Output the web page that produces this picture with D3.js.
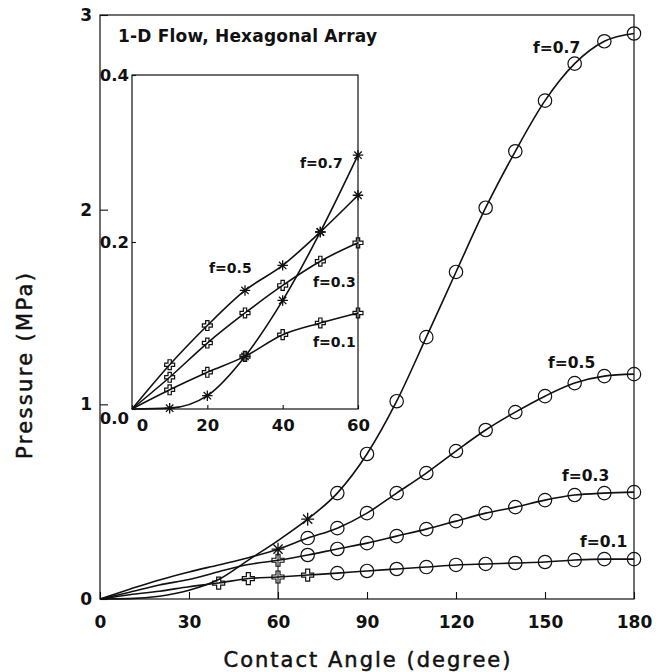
<!DOCTYPE html>
<html><head><meta charset="utf-8">
<script src="https://cdn.jsdelivr.net/npm/d3@7"></script>
<style>html,body{margin:0;padding:0;background:#fff}svg{display:block}</style>
</head><body><svg id="c" width="661" height="672"></svg>
<script>
// ---- data ----
const angles = [0,10,20,30,40,50,60,70,80,90,100,110,120,130,140,150,160,170,180];
const mainF01 = [0,0.022,0.040,0.063,0.082,0.105,0.113,0.123,0.133,0.144,0.154,0.164,0.175,0.180,0.185,0.190,0.200,0.205,0.205];
const mainF03 = [0,0.035,0.072,0.100,0.140,0.177,0.199,0.226,0.257,0.287,0.323,0.359,0.400,0.441,0.472,0.508,0.534,0.544,0.549];
const mainF05 = [0,0.050,0.098,0.139,0.175,0.212,0.256,0.313,0.364,0.441,0.544,0.647,0.760,0.868,0.960,1.042,1.109,1.145,1.155];
const mainF07 = [0,0.002,0.014,0.045,0.100,0.200,0.300,0.410,0.544,0.745,1.016,1.345,1.680,2.010,2.300,2.560,2.750,2.865,2.905];
// marker kind per point: . none, o circle, * star, + cross
const mainMarkF01 = "....++++ooooooooooo";
const mainMarkF03 = "......+oooooooooooo";
const mainMarkF05 = "......*oooooooooooo";
const mainMarkF07 = ".......*ooooooooooo";

const insetAngles = [0,10,20,30,40,50,60];
const insetF01 = [0,0.023,0.044,0.063,0.089,0.103,0.115];
const insetF03 = [0,0.038,0.079,0.115,0.148,0.177,0.199];
const insetF05 = [0,0.053,0.100,0.142,0.172,0.212,0.256];
const insetF07 = [0,0.001,0.016,0.063,0.130,0.212,0.304];
const insetMarkF01 = ".++++++";
const insetMarkF03 = ".++++++";
const insetMarkF05 = ".++****";
const insetMarkF07 = ".******";

const seriesNames = ["f=0.1","f=0.3","f=0.5","f=0.7"];
const mainTicksX = [0,30,60,90,120,150,180];
const mainTicksY = [0,1,2,3];
const insetTicksX = [0,20,40,60];
const insetTicksY = [0,0.2,0.4];
const titleText = "1-D Flow, Hexagonal Array";
const xTitle = "Contact Angle (degree)";
const yTitle = "Pressure (MPa)";

// ---- drawing ----
const ink = "#111";
const svg = d3.select("#c");
const x = d3.scaleLinear().domain([0,180]).range([100,634]);
const y = d3.scaleLinear().domain([0,3]).range([599,15]);
const xi = d3.scaleLinear().domain([0,60]).range([132,358]);
const yi = d3.scaleLinear().domain([0,0.4]).range([409,75]);

const starType = {draw(ctx, size){
  const r = Math.sqrt(size)/2;
  for (let k=0;k<4;k++){const a=k*Math.PI/4;ctx.moveTo(r*Math.cos(a),r*Math.sin(a));ctx.lineTo(-r*Math.cos(a),-r*Math.sin(a));}
}};

function drawSeries(g, xs, ys, xa, vals, marks, sizes){
  const pts = xa.map((a,i)=>({a, v:vals[i], m:marks[i]}));
  g.append("path").datum(pts)
    .attr("d", d3.line().x(d=>xs(d.a)).y(d=>ys(d.v)).curve(d3.curveMonotoneX))
    .attr("fill","none").attr("stroke",ink).attr("stroke-width",1.6);
  g.selectAll(null).data(pts.filter(d=>d.m!==".")).enter().append("path")
    .attr("transform", d=>`translate(${xs(d.a)},${ys(d.v)})`)
    .attr("d", d=> d.m==="o" ? d3.symbol().type(d3.symbolCircle).size(sizes.o)()
                 : d.m==="+" ? d3.symbol().type(d3.symbolCross).size(sizes.p)()
                 : d3.symbol().type(starType).size(sizes.s)())
    .attr("fill", "none").attr("stroke", ink).attr("stroke-width", d=>d.m==="*"?1.3:1.2);
}

// main frame
svg.append("rect").attr("x",x(0)).attr("y",y(3)).attr("width",x(180)-x(0)).attr("height",y(0)-y(3))
  .attr("fill","none").attr("stroke",ink).attr("stroke-width",1.2);

const fontTick = "'DejaVu Sans', sans-serif";
const gx = svg.append("g").attr("transform",`translate(0,${y(0)})`)
  .call(d3.axisBottom(x).tickValues(mainTicksX).tickSizeInner(-7).tickSizeOuter(0).tickPadding(17).tickFormat(d3.format("d")));
const gy = svg.append("g").attr("transform",`translate(${x(0)},0)`)
  .call(d3.axisLeft(y).tickValues(mainTicksY).tickSizeInner(-8).tickSizeOuter(0).tickPadding(8).tickFormat(d3.format("d")));
[gx,gy].forEach(g=>{g.select(".domain").remove();
  g.selectAll("line").attr("stroke",ink).attr("stroke-width",1.1);
  g.selectAll("text").attr("fill",ink).style("font-family",fontTick).style("font-weight","bold").style("font-size","17px");});

// main series
const mainSizes = {o: Math.PI*6.7*6.7, p: 80, s: 170};
const mg = svg.append("g");
[[mainF01,mainMarkF01],[mainF03,mainMarkF03],[mainF05,mainMarkF05],[mainF07,mainMarkF07]]
  .forEach(([v,m])=>drawSeries(mg,x,y,angles,v,m,mainSizes));
// vertical line at 60 deg
svg.append("line").attr("x1",x(60)).attr("x2",x(60)).attr("y1",y(0)).attr("y2",y(mainF05[6]))
  .attr("stroke",ink).attr("stroke-width",1);

// main labels
const mainLabelPos = [[580,547],[562,481],[548,368],[533,53]];
seriesNames.forEach((n,i)=>svg.append("text").attr("x",mainLabelPos[i][0]).attr("y",mainLabelPos[i][1])
  .text(n).attr("fill",ink).style("font-family",fontTick).style("font-weight","bold").style("font-size","15.5px"));

// title
svg.append("text").attr("x",118).attr("y",42).text(titleText).attr("fill",ink)
  .style("font-family",fontTick).style("font-weight","bold").style("font-size","17px")
  .attr("textLength",259).attr("lengthAdjust","spacing");

// inset
svg.append("rect").attr("x",xi(0)).attr("y",yi(0.4)).attr("width",xi(60)-xi(0)).attr("height",yi(0)-yi(0.4))
  .attr("fill","#fff").attr("stroke",ink).attr("stroke-width",1.2);
const gix = svg.append("g").attr("transform",`translate(0,${yi(0)})`)
  .call(d3.axisBottom(xi).tickValues(insetTicksX).tickSizeInner(-4).tickSizeOuter(0).tickPadding(10).tickFormat(d3.format("d")));
const giy = svg.append("g").attr("transform",`translate(${xi(0)},0)`)
  .call(d3.axisLeft(yi).tickValues(insetTicksY).tickSizeInner(-4).tickSizeOuter(0).tickPadding(3).tickFormat(d3.format(".1f")));
[gix,giy].forEach(g=>{g.select(".domain").remove();
  g.selectAll("line").attr("stroke",ink).attr("stroke-width",1.1);
  g.selectAll("text").attr("fill",ink).style("font-family",fontTick).style("font-weight","bold").style("font-size","16.5px");});
gix.selectAll(".tick").filter(d=>d===0).select("text").attr("dx","10");
giy.selectAll(".tick").filter(d=>d===0).select("text").attr("dy","0.85em");
const insetSizes = {o: 100, p: 55, s: 110};
const ig = svg.append("g");
[[insetF01,insetMarkF01],[insetF03,insetMarkF03],[insetF05,insetMarkF05],[insetF07,insetMarkF07]]
  .forEach(([v,m])=>drawSeries(ig,xi,yi,insetAngles,v,m,insetSizes));
const insetLabelPos = [[313,347],[313,287],[209,273],[300,168]];
seriesNames.forEach((n,i)=>svg.append("text").attr("x",insetLabelPos[i][0]).attr("y",insetLabelPos[i][1])
  .text(n).attr("fill",ink).style("font-family",fontTick).style("font-weight","bold").style("font-size","14px"));

// axis titles
svg.append("text").attr("x",(x(0)+x(180))/2).attr("y",667).attr("text-anchor","middle").text(xTitle)
  .attr("fill",ink).attr("stroke",ink).attr("stroke-width",0.5).style("font-family",fontTick).style("font-size","21px")
  .attr("textLength",287).attr("lengthAdjust","spacing");
svg.append("text").attr("transform","translate(32,366) rotate(-90)").attr("text-anchor","middle").text(yTitle)
  .attr("fill",ink).attr("stroke",ink).attr("stroke-width",0.5).style("font-family",fontTick).style("font-size","21px")
  .attr("textLength",186).attr("lengthAdjust","spacing");
</script></body></html>
